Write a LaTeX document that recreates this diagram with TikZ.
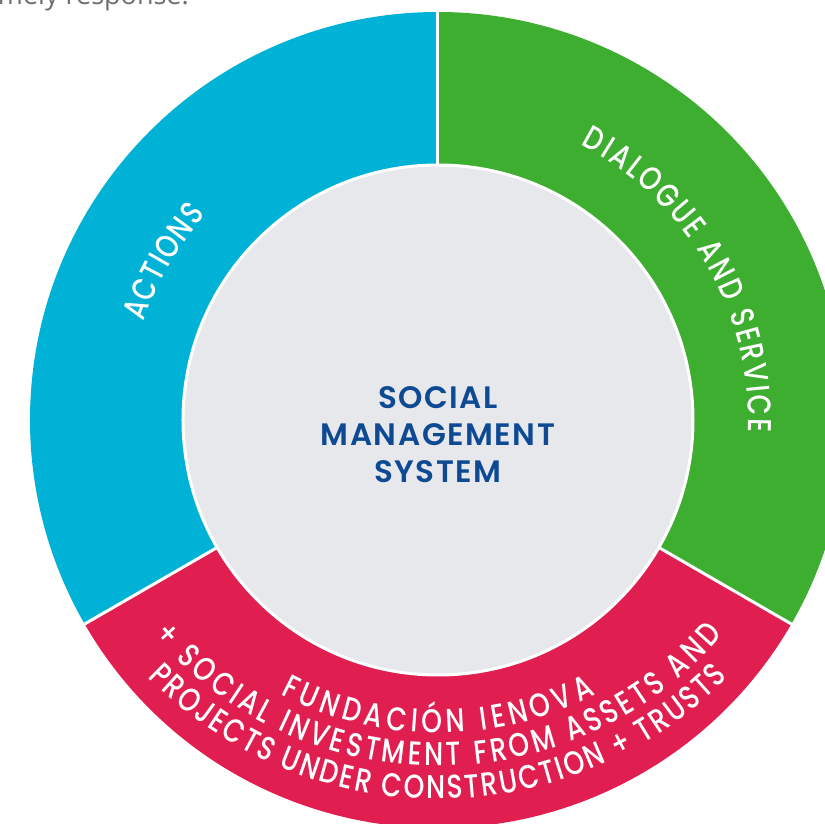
\documentclass[tikz,border=0pt]{standalone}
\usepackage{fontspec}
\setmainfont{Poppins}
\newfontfamily\curvefont[FakeStretch=0.8]{Poppins Medium}
\newfontfamily\centerfont[LetterSpace=5]{Poppins SemiBold}
\newfontfamily\topfont{Open Sans}
\usetikzlibrary{decorations.text}
\definecolor{segblue}{HTML}{00B2D6}
\definecolor{seggreen}{HTML}{3DAE2F}
\definecolor{segred}{HTML}{E01E4F}
\definecolor{innergray}{HTML}{E7E8EC}
\definecolor{titleblue}{HTML}{0D4A93}
\definecolor{topgray}{HTML}{6D6E71}
\tikzset{
  curvelabel/.style={decorate, decoration={text along path, text align=fit to path,
      text color=white, text={|\curvefont\fontsize{33}{38}\selectfont|#1}}},
  separator/.style={white, line width=3pt},
}
\begin{document}
\begin{tikzpicture}
\useasboundingbox (-438pt,-404pt) rectangle (387pt,420pt);
\clip (-438pt,-404pt) rectangle (387pt,420pt);
\fill[white] (-438pt,-404pt) rectangle (387pt,420pt);
% ring sectors
\fill[segblue] (0,0) -- (90:408pt) arc[start angle=90,end angle=210,radius=408pt] -- cycle;
\fill[seggreen] (0,0) -- (-30:408pt) arc[start angle=-30,end angle=90,radius=408pt] -- cycle;
\fill[segred] (0,0) -- (210:408pt) arc[start angle=210,end angle=330,radius=408pt] -- cycle;
\foreach \a in {90,210,330} \draw[separator] (0,0) -- (\a:420pt);
\draw[white, line width=3pt, fill=innergray] (0,0) circle[radius=255pt];
% centre title
\node[align=center, inner sep=0pt, text=titleblue,
      font=\centerfont\fontsize{31}{37.3}\selectfont] (title) at (0pt,-14.5pt)
      {SOCIAL\\MANAGEMENT\\SYSTEM};
% curved labels
\path[curvelabel={ACTIONS}] (161.5:310pt) arc[start angle=161.5,end angle=138.5,radius=310pt];
\path[curvelabel={DIALOGUE AND SERVICE}] (62.6:310pt) arc[start angle=62.6,end angle=-2.2,radius=310pt];
\path[curvelabel={FUNDACIÓN IENOVA}] ([shift={(0pt,28pt)}]242.5:341pt) arc[start angle=242.5,end angle=297.5,radius=341pt];
\path[curvelabel={+ SOCIAL INVESTMENT FROM ASSETS AND}] ([shift={(0pt,28pt)}]220.5:374pt) arc[start angle=220.5,end angle=319.5,radius=374pt];
\path[curvelabel={PROJECTS UNDER CONSTRUCTION + TRUSTS}] ([shift={(0pt,28pt)}]224.5:407pt) arc[start angle=224.5,end angle=315.5,radius=407pt];
% cut-off text at top
\node[anchor=base east, inner sep=0pt, text=topgray,
      font=\topfont\fontsize{27}{30}\selectfont] (toptext) at (-249pt,415.5pt) {timely response.};
\end{tikzpicture}
\end{document}
